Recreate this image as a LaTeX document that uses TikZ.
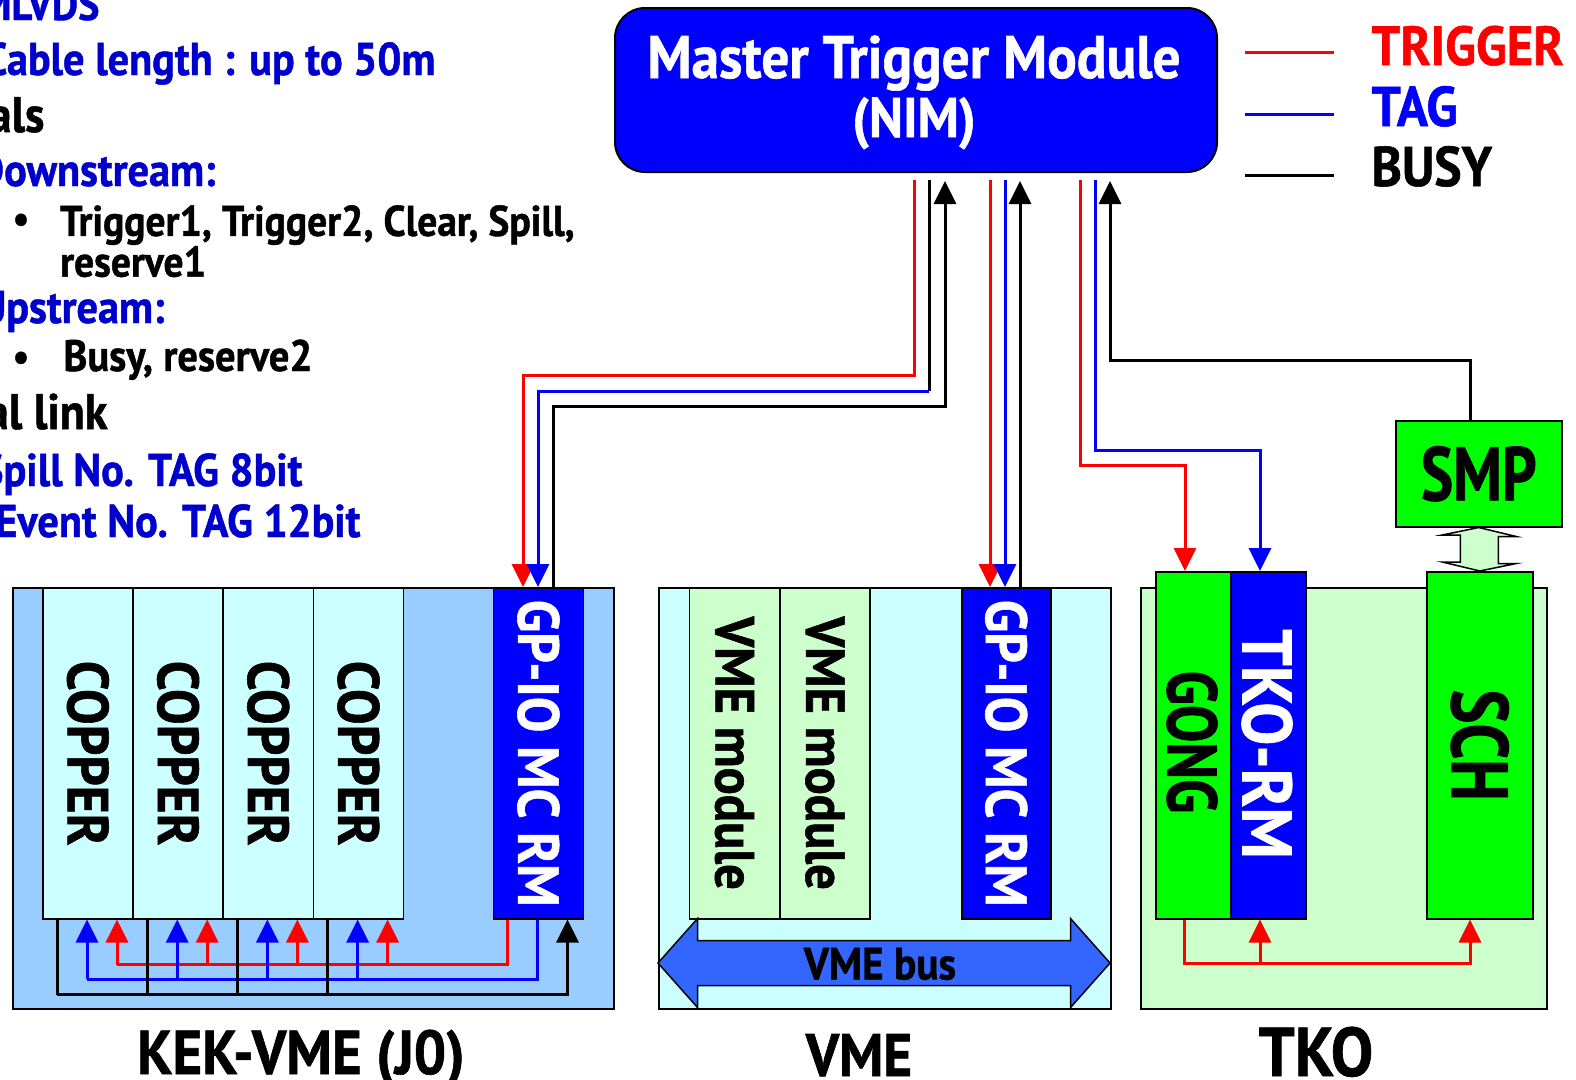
\documentclass[tikz,border=0pt]{standalone}
\usepackage{fontspec}
\setmainfont{PT Sans}[FakeStretch=0.92, FakeBold=1]
\newfontfamily\popnarrow{PT Sans}[FakeStretch=0.8, FakeBold=1]
\usetikzlibrary{arrows.meta, positioning, calc}
\definecolor{kekblue}{RGB}{153, 204, 255}
\definecolor{cyanbox}{RGB}{204, 255, 255}
\definecolor{palegreen}{RGB}{204, 255, 204}
\definecolor{modblue}{RGB}{0, 0, 255}
\definecolor{modgreen}{RGB}{0, 255, 0}
\definecolor{busblue}{RGB}{51, 102, 255}
\definecolor{noteblue}{RGB}{0, 0, 204}
\newcommand{\pop}[1]{\fontsize{#1}{#1}\selectfont\bfseries}
\newcommand{\popc}[1]{\popnarrow\fontsize{#1}{#1}\selectfont\bfseries}

\tikzset{
  crate/.style={draw, line width=1.5pt, anchor=north west, inner sep=0pt},
  card/.style={crate, minimum width=90.3pt, minimum height=331pt},
  cardtext/.style={rotate=-90, font=\pop{58pt}},
  note/.style={anchor=base east, text=noteblue, font=\pop{46pt}},
  item/.style={anchor=north west, inner sep=0pt, align=left, font=\fontsize{43pt}{37pt}\selectfont\bfseries},
  rwire/.style={draw=red, line width=3pt},
  bwire/.style={draw=modblue, line width=3pt},
  kwire/.style={draw=black, line width=3pt},
}

\begin{document}
\begin{tikzpicture}[x=1pt, y=-1pt, >={Triangle[length=23pt, width=22pt]}]
  \clip (0,0) rectangle (1576,1079);
  \fill[white] (0,0) rectangle (1576,1079);

  % notes on the left
  \node[note, font=\pop{44pt}] (mlvds) at (103,20) {MLVDS};
  \node[note] (cable) at (439,75) {Cable length : up to 50m};
  \node[anchor=base east, font=\pop{50pt}] (sig) at (48,132) {als};
  \node[note] (down) at (219,186) {Downstream:};
  \node[font=\pop{40pt}] (bul1) at (21,223) {\textbullet};
  \node[item] (down1) at (60,205) {Trigger1, Trigger2, Clear, Spill,\\reserve1};
  \node[note] (up) at (168,323) {Upstream:};
  \node[font=\pop{40pt}] (bul2) at (21,361) {\textbullet};
  \node[anchor=base west, font=\pop{44pt}] (up1) at (60,371) {Busy, reserve2};
  \node[anchor=base east, font=\pop{50pt}] (link) at (111,429) {al link};
  \node[note] (spill) at (306,486) {Spill No. TAG 8bit};
  \node[note] (event) at (364,537) {Event No. TAG 12bit};

  % master trigger module and legend
  \node[crate, fill=modblue, line width=2pt, rounded corners=30pt, minimum width=602pt, minimum height=164pt] (mtm) at (614,7) {};
  \node[anchor=base, text=white, font=\pop{60pt}] (mtmname) at (914,78) {Master Trigger Module};
  \node[anchor=base, text=white, font=\pop{56pt}] (mtmnim) at (914,137) {(NIM)};

  \node[anchor=base west, text=red, font=\pop{55pt}] (lgtrig) at (1368,65) {TRIGGER};
  \node[anchor=base west, text=modblue, font=\pop{56pt}] (lgtag) at (1368,126) {TAG};
  \node[anchor=base west, font=\pop{56pt}] (lgbusy) at (1368,186) {BUSY};
  \draw[rwire] (1245,52) -- (1334,52);
  \draw[bwire] (1245,114) -- (1334,114);
  \draw[kwire] (1245,175) -- (1334,175);

  % crates
  \node[crate, fill=kekblue, minimum width=601pt, minimum height=421pt] (kek) at (12,587) {};
  \node[crate, fill=cyanbox, minimum width=452pt, minimum height=421pt] (vme) at (658,587) {};
  \node[crate, fill=palegreen, minimum width=406pt, minimum height=421pt] (tko) at (1140,587) {};

  \foreach \i in {1,...,4} {
    \node[card, fill=cyanbox] (cp\i) at ({42+90.2*(\i-1)},587) {};
    \node[cardtext] (cpname\i) at (cp\i.center) {COPPER};
  }
  \node[card, fill=modblue] (kgp) at (492.5,587) {};
  \node[cardtext, text=white] (kgpname) at (kgp.center) {GP-IO MC RM};

  \node[card, fill=palegreen] (vm1) at (688.5,587) {};
  \node[card, fill=palegreen] (vm2) at (779,587) {};
  \node[cardtext, font=\pop{55pt}] (vmname1) at (vm1.center) {VME module};
  \node[cardtext, font=\pop{55pt}] (vmname2) at (vm2.center) {VME module};
  \node[card, fill=modblue, minimum width=89pt] (vgp) at (961,587) {};
  \node[cardtext, text=white] (vgpname) at (vgp.center) {GP-IO MC RM};

  \node[card, fill=modgreen, minimum width=75pt, minimum height=347pt] (gong) at (1155,571) {};
  \node[card, fill=modblue, minimum width=75pt, minimum height=347pt] (tkorm) at (1230,571) {};
  \node[card, fill=modgreen, minimum width=106pt, minimum height=347pt] (sch) at (1426,571) {};
  \node[cardtext, font=\popc{70pt}] (gongname) at (1192,742) {GONG};
  \node[cardtext, text=white, font=\pop{70pt}] (tkormname) at (1267,744) {TKO-RM};
  \node[cardtext, font=\popc{80pt}] (schname) at (sch.center) {SCH};

  \node[crate, fill=modgreen, minimum width=166pt, minimum height=106pt] (smp) at (1395,420) {};
  \node[font=\popc{76pt}] (smpname) at (smp.center) {SMP};

  % VME bus
  \coordinate (busL) at (658,963);
  \coordinate (busR) at (1110,963);
  \draw[fill=busblue, line width=1.5pt] (busL) -- ++(39.5,-44.5) -- ++(0,22) -- ++(373,0) -- ++(0,-22) -- (busR)
    -- ++(-39.5,44.5) -- ++(0,-22) -- ++(-373,0) -- ++(0,22) -- cycle;
  \node[font=\pop{45pt}] (busname) at (880,964) {VME bus};

  % SMP <-> SCH
  \draw[fill=palegreen, line width=1.5pt] (smp.south) -- ++(37.5,9) -- ++(-18,0) -- ++(0,27) -- ++(18,0) -- (sch.north)
    -- ++(-37.5,-9) -- ++(18,0) -- ++(0,-27) -- ++(-18,0) -- cycle;

  % crate names
  \node[anchor=base, font=\pop{62pt}] (keklbl) at (301,1074) {KEK-VME (J0)};
  \node[anchor=base, font=\pop{60pt}] (vmelbl) at (859,1076) {VME};
  \node[anchor=base, font=\pop{69pt}] (tkolbl) at (1316,1076) {TKO};

  % wires from the MTM
  \coordinate (r1a) at (914,180);
  \coordinate (r1b) at (523,375);
  \coordinate (b1a) at (929,180);
  \coordinate (b1b) at (538,391);
  \coordinate (k1a) at (945,181);
  \coordinate (k1b) at (553,406);
  \draw[rwire,->] (r1a) |- (r1b) -- (r1b |- kgp.north);
  \draw[kwire] (b1a) -- (b1a |- b1b);
  \draw[bwire,->] (b1a |- b1b) -- (b1b) -- (b1b |- kgp.north);
  \draw[kwire,->] (k1b |- kgp.north) -- (k1b) -| (k1a);

  \coordinate (r2a) at (990,180);
  \coordinate (b2a) at (1005,180);
  \coordinate (k2a) at (1020,181);
  \draw[rwire,->] (r2a) -- (r2a |- vgp.north);
  \draw[bwire,->] (b2a) -- (b2a |- vgp.north);
  \draw[kwire,->] (k2a |- vgp.north) -- (k2a);

  \coordinate (r3a) at (1080,180);
  \coordinate (r3b) at (1185,465);
  \coordinate (b3a) at (1095,180);
  \coordinate (b3b) at (1260,450);
  \coordinate (k3a) at (1110,181);
  \coordinate (k3b) at (1470,360);
  \draw[rwire,->] (r3a) |- (r3b) -- (r3b |- gong.north);
  \draw[bwire,->] (b3a) |- (b3b) -- (b3b |- tkorm.north);
  \draw[kwire,->] (k3b |- smp.north) -- (k3b) -| (k3a);

  % TKO backplane
  \coordinate (tr1) at (1184,963);
  \coordinate (tr2) at (1260,963);
  \coordinate (tr3) at (1470,963);
  \draw[rwire,->] (tr1 |- gong.south) -- (tr1) -| (tr3 |- sch.south);
  \draw[rwire,->] (tr2) -- (tr2 |- tkorm.south);

  % KEK-VME backplane
  \draw[rwire] ($(kgp.south west)+(15,0)$) |- ($(cp1.south west)+(75,45)$);
  \draw[bwire] ($(kgp.south west)+(45,0)$) |- ($(cp1.south west)+(45,59.5)$);
  \foreach \i in {1,...,4} {
    \draw[rwire,->] ($(cp\i.south west)+(75,45)$) -- ($(cp\i.south west)+(75,0)$);
    \draw[bwire,->] ($(cp\i.south west)+(45,59.5)$) -- ($(cp\i.south west)+(45,0)$);
    \draw[kwire] ($(cp\i.south west)+(15,0)$) -- ++(0,75);
  }
  \draw[kwire,->] ($(cp1.south west)+(15,75)$) -| ($(kgp.south west)+(75,0)$);
\end{tikzpicture}
\end{document}
